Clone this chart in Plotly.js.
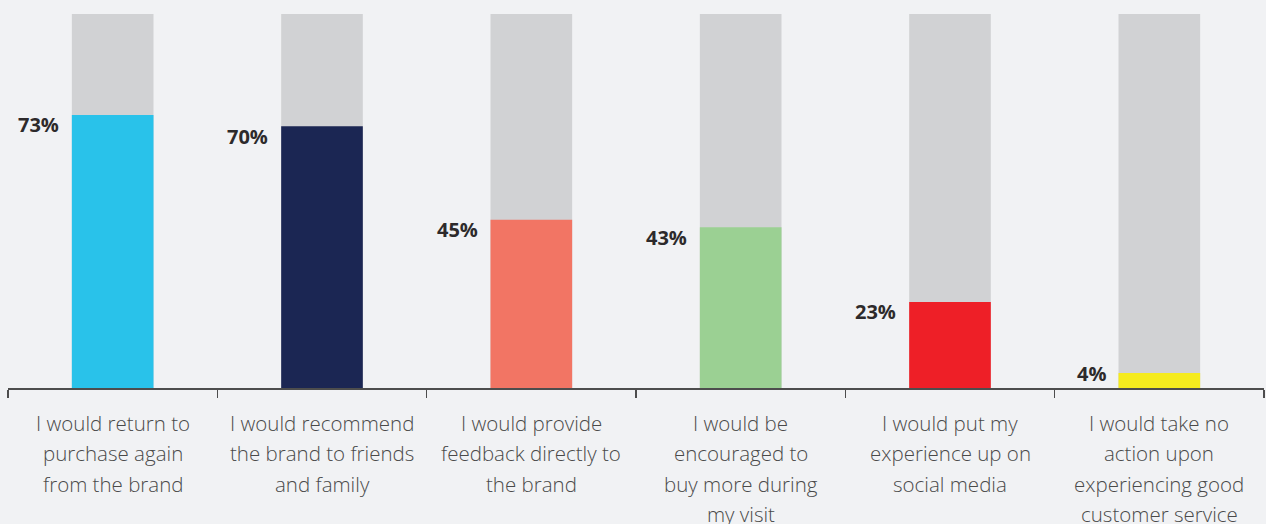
<!DOCTYPE html>
<html>
<head>
<meta charset="utf-8">
<script src="https://cdn.plot.ly/plotly-3.0.1.min.js"></script>
<style>
html,body{margin:0;padding:0;background:#F1F2F4;}
#chart{width:1266px;height:524px;}
</style>
</head>
<body>
<div id="chart"></div>
<script>
const categories = [
  "I would return to|purchase again|from the brand",
  "I would recommend|the brand to friends|and family",
  "I would provide|feedback directly to|the brand",
  "I would be|encouraged to|buy more during|my visit",
  "I would put my|experience up on|social media",
  "I would take no|action upon|experiencing good|customer service"
];
const values = [73, 70, 45, 43, 23, 4];
const totals = [100, 100, 100, 100, 100, 100];
const colors = ["#29C2EA", "#1B2653", "#F27564", "#9BD093", "#EE1F27", "#F5EB1E"];

const BAR_W = 0.39;
const xs = categories.map((c, i) => i);

const traces = [
  {type: "bar", x: xs, y: totals, width: BAR_W, marker: {color: "#D1D2D4"}, hoverinfo: "skip", showlegend: false},
  {type: "bar", x: xs, y: values, width: BAR_W, marker: {color: colors}, hoverinfo: "skip", showlegend: false}
];

const annotations = [];
values.forEach((v, i) => {
  annotations.push({
    x: i - BAR_W / 2, y: v, xref: "x", yref: "y",
    xanchor: "right", yanchor: "middle", xshift: -11, yshift: v < 10 ? 0 : -10,
    text: v + "%", showarrow: false,
    font: {family: "Open Sans, sans-serif", size: 20, weight: 700, color: "#2D2A2B"}
  });
});
categories.forEach((c, i) => {
  c.split("|").forEach((line, k) => {
    annotations.push({
      x: i, y: 0, xref: "x", yref: "paper",
      xanchor: "center", yanchor: "middle", yshift: -35 - k * 30.4,
      text: line, showarrow: false,
      font: {family: "Open Sans, sans-serif", size: 20.5, weight: 300, color: "#4A4A4A"}
    });
  });
});

const layout = {
  width: 1266, height: 524,
  margin: {l: 8, r: 2, t: 14, b: 136},
  paper_bgcolor: "#F1F2F4", plot_bgcolor: "#F1F2F4",
  barmode: "overlay",
  xaxis: {
    type: "linear", range: [-0.5, 5.5], showgrid: false, zeroline: false,
    showline: true, linecolor: "#4D4D4D", linewidth: 1.5,
    tickmode: "array", tickvals: [-0.5, 0.5, 1.5, 2.5, 3.5, 4.5, 5.5], ticktext: ["", "", "", "", "", "", ""],
    ticks: "outside", ticklen: 8, tickwidth: 1.5, tickcolor: "#4D4D4D", showticklabels: false,
    fixedrange: true
  },
  yaxis: {range: [0, 100], visible: false, fixedrange: true},
  annotations: annotations
};

Plotly.newPlot("chart", traces, layout, {displayModeBar: false, staticPlot: true});
</script>
</body>
</html>
